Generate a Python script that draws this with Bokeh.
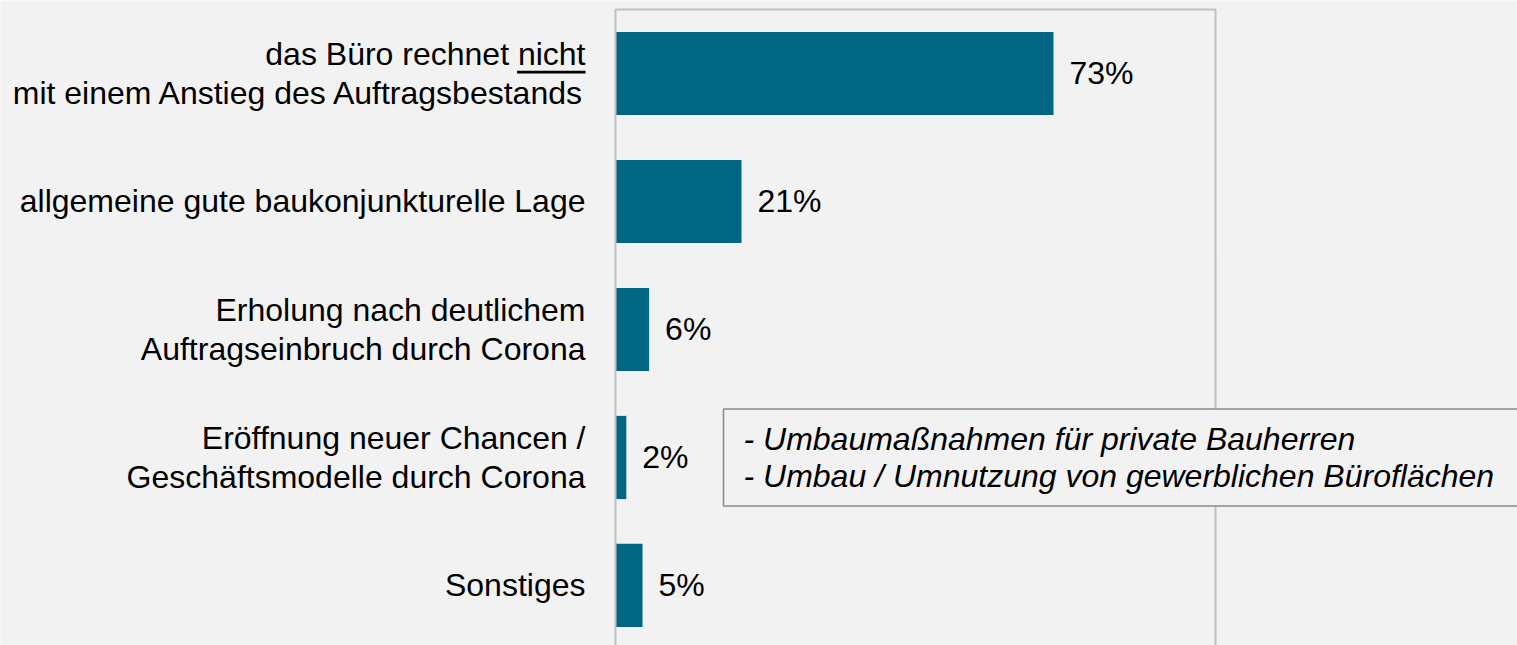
from bokeh.plotting import figure
from bokeh.models import ColumnDataSource, Range1d, Label, BoxAnnotation
from bokeh.core.properties import value
from bokeh.embed import file_html
from bokeh.resources import INLINE

categories = [
    "das Büro rechnet nicht\nmit einem Anstieg des Auftragsbestands",
    "allgemeine gute baukonjunkturelle Lage",
    "Erholung nach deutlichem\nAuftragseinbruch durch Corona",
    "Eröffnung neuer Chancen /\nGeschäftsmodelle durch Corona",
    "Sonstiges",
]
values = [73, 21, 5.6, 1.8, 4.5]
value_labels = ["73%", "21%", "6%", "2%", "5%"]
note_lines = [
    "- Umbaumaßnahmen für private Bauherren",
    "- Umbau / Umnutzung von gewerblichen Büroflächen",
]

FONT = "Liberation Sans"
BAR = "#006682"
GRID = "#c0c0c0"
BG = "#f2f2f2"

idx = list(range(len(categories)))
src = ColumnDataSource(dict(y=idx, v=values, lab=value_labels, cat=categories, zero=[0] * len(idx)))

p = figure(width=1517, height=645, output_backend="svg", toolbar_location=None,
           x_range=Range1d(-102.5, 150.33), y_range=Range1d(4.469, -0.5703),
           min_border_left=0, min_border_right=0, min_border_top=0, min_border_bottom=0)
p.background_fill_color = BG
p.border_fill_color = BG
p.outline_line_color = None
p.axis.visible = False
p.grid.visible = False

# plot-area frame (left, top and 100% line)
p.add_layout(BoxAnnotation(left=0, right=100, top=-0.5, bottom=5, fill_color=None,
                           fill_alpha=0, line_color=GRID, line_alpha=1, line_width=2))

p.hbar(y="y", right="v", left=0, height=0.65, source=src, color=BAR, line_color=None)

p.text(x="v", y="y", text="lab", source=src, x_offset=16, text_baseline="middle",
       text_align="left", text_font=value(FONT), text_font_size="32px", text_color="#000000")

p.text(x="zero", y="y", text="cat", source=src, x_offset=-30, text_baseline="middle",
       text_align="right", text_font=value(FONT), text_font_size="32px", text_color="#000000",
       text_line_height=1.09)

# underline under "nicht"
p.add_layout(BoxAnnotation(left=-16.4, right=-5.0, top=-0.021, bottom=0.0,
                           fill_color="#000000", fill_alpha=1, line_color=None))

note = Label(x=18, y=3, text="\n".join(note_lines), text_font=FONT, text_font_size="32px",
             text_font_style="italic", text_color="#000000", text_align="left",
             text_baseline="middle", text_line_height=1.03, background_fill_color=BG,
             border_line_color="#8a8a8a", border_line_width=1.5,
             padding=dict(left=20, right=26, top=12, bottom=12))
p.add_layout(note)

html = file_html(p, INLINE)
html = html.replace("<body>", '<body style="background:#f2f2f2;">', 1)
open("out.html", "w").write(html)
